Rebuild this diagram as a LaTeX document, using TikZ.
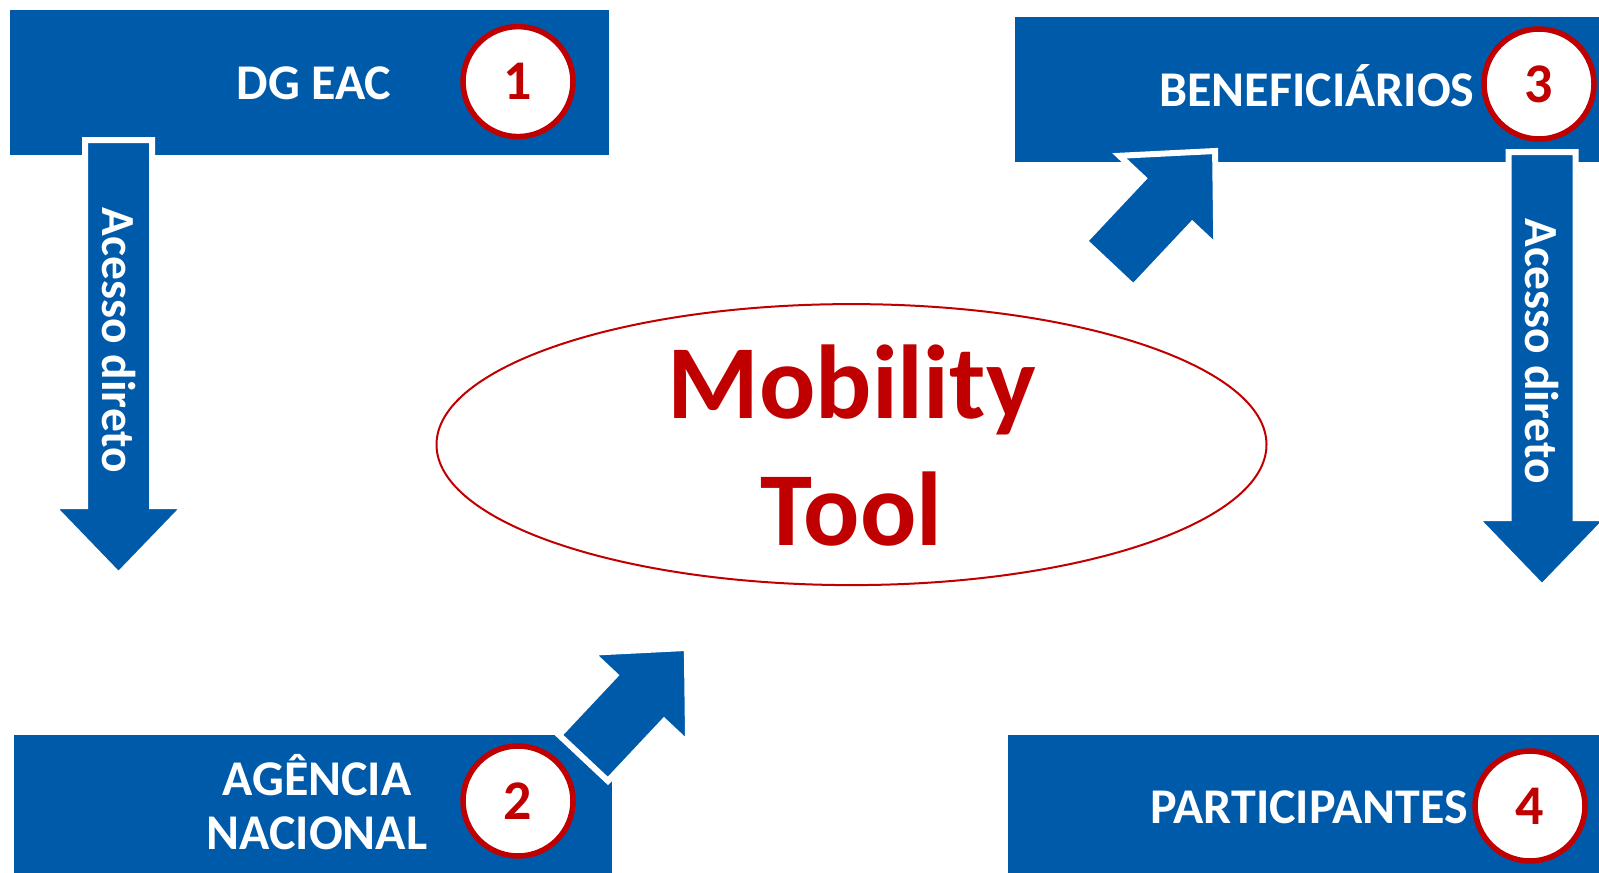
\documentclass[tikz,border=0pt]{standalone}
\usepackage{fontspec}
\setmainfont{Carlito}
\usetikzlibrary{shapes.geometric}
\definecolor{eblue}{RGB}{0,90,170}
\definecolor{ered}{RGB}{192,0,0}
\tikzset{
  pics/bigarrow/.style={code={
    \draw[fill=eblue,draw=white,line width=6pt,line join=miter]
      (0,-33.5) -- ({#1-69},-33.5) -- ({#1-69},-66.5) -- (#1,0)
      -- ({#1-69},66.5) -- ({#1-69},33.5) -- (0,33.5) -- cycle;}}}
\begin{document}
\begin{tikzpicture}[x=1pt,y=-1pt,
    box/.style={fill=eblue,inner sep=0pt,anchor=north west},
    lbl/.style={text=white,font=\bfseries\fontsize{50}{60}\selectfont,anchor=base},
    num/.style={circle,draw=ered,fill=white,line width=5.5pt,minimum size=110pt,
      inner sep=0pt,text=ered,font=\bfseries\fontsize{56}{60}\selectfont},
    mtxt/.style={text=ered,font=\bfseries\fontsize{105}{120}\selectfont,anchor=base},
    vtxt/.style={text=white,rotate=-90,font=\bfseries\fontsize{47.5}{50}\selectfont}]
  \useasboundingbox (0,0) rectangle (1599,873);
  % blocks
  \node[box,minimum width=599pt,minimum height=145pt] (dg) at (10,10) {};
  \node[box,minimum width=590pt,minimum height=145pt] (ben) at (1015,17) {};
  \node[box,minimum width=598pt,minimum height=140pt] (ag) at (14,734.5) {};
  \node[box,minimum width=595pt,minimum height=140pt] (par) at (1007.6,734.5) {};
  \node[lbl] (dgl) at (314,99) {DG EAC};
  \node[lbl] (benl) at (1317,106) {BENEFICIÁRIOS};
  \node[lbl] (agl) at (317,795.5) {AGÊNCIA};
  \node[lbl] (agl2) at (317,849.5) {NACIONAL};
  \node[lbl] (parl) at (1309,823) {PARTICIPANTES};
  \node[num] (n1) at (518,81.6) {1};
  \node[num] (n2) at (518,801) {2};
  \node[num] (n3) at (1539,84) {3};
  \node[num] (n4) at (1530,806) {4};
  % centre
  \node[ellipse,draw=ered,line width=2pt,minimum width=830pt,minimum height=281pt,
    inner sep=0pt] (mt) at (851.5,444.6) {};
  \node[mtxt] (mt1) at (851.5,418) {Mobility};
  \node[mtxt] (mt2) at (851.5,545.6) {Tool};
  % arrows
  \pic[rotate=-90] at (118.5,140) {bigarrow=435};
  \pic[rotate=-90] at (1542,152) {bigarrow=435};
  \pic[rotate=46.8] at (1109,264) {bigarrow=155};
  \pic[rotate=46.8] at (583.5,758) {bigarrow=151};
  \node[vtxt] (acc1) at (118.5,340.5) {Acesso direto};
  \node[vtxt] (acc2) at (1542,351) {Acesso direto};
\end{tikzpicture}
\end{document}
